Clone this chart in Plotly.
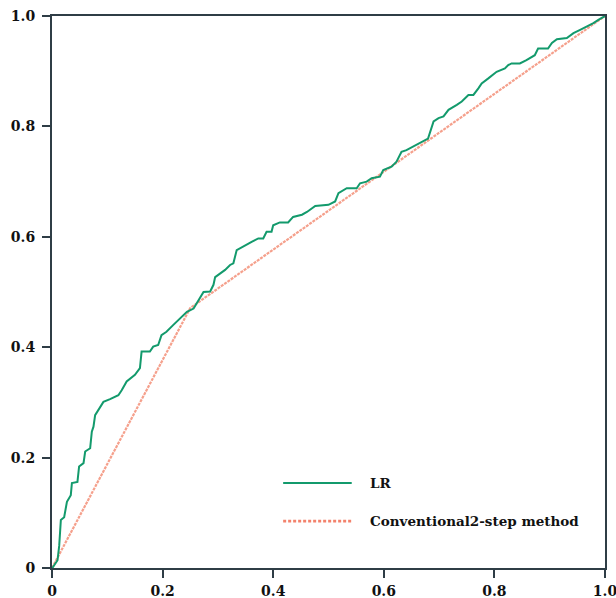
import plotly.graph_objects as go

# LR ROC curve (false positive rate, true positive rate)
lr_fpr = [0, 0.002, 0.010, 0.013, 0.016, 0.022, 0.027, 0.034, 0.036, 0.046, 0.049, 0.057,
          0.060, 0.069, 0.072, 0.075, 0.078, 0.087, 0.093, 0.105, 0.120, 0.126, 0.135, 0.150,
          0.159, 0.162, 0.177, 0.183, 0.192, 0.198, 0.207, 0.219, 0.225, 0.244, 0.256, 0.262,
          0.268, 0.274, 0.286, 0.292, 0.295, 0.313, 0.322, 0.328, 0.334, 0.349, 0.361, 0.373,
          0.382, 0.388, 0.397, 0.400, 0.412, 0.427, 0.436, 0.452, 0.461, 0.476, 0.500, 0.512,
          0.518, 0.533, 0.551, 0.557, 0.569, 0.578, 0.593, 0.599, 0.614, 0.623, 0.632, 0.641,
          0.665, 0.680, 0.690, 0.699, 0.708, 0.717, 0.732, 0.741, 0.753, 0.762, 0.771, 0.777,
          0.789, 0.804, 0.819, 0.825, 0.831, 0.846, 0.858, 0.873, 0.879, 0.897, 0.904, 0.913,
          0.931, 0.943, 0.955, 0.967, 0.979, 0.988, 1.0]
lr_tpr = [0, 0.002, 0.014, 0.040, 0.087, 0.092, 0.120, 0.132, 0.154, 0.156, 0.184, 0.190,
          0.211, 0.217, 0.247, 0.256, 0.277, 0.290, 0.301, 0.306, 0.313, 0.322, 0.338, 0.350,
          0.362, 0.392, 0.392, 0.401, 0.404, 0.422, 0.428, 0.440, 0.446, 0.464, 0.470, 0.480,
          0.489, 0.500, 0.501, 0.513, 0.527, 0.540, 0.549, 0.552, 0.576, 0.585, 0.591, 0.597,
          0.597, 0.609, 0.609, 0.621, 0.626, 0.626, 0.636, 0.640, 0.645, 0.656, 0.658, 0.664,
          0.679, 0.688, 0.688, 0.697, 0.700, 0.706, 0.709, 0.721, 0.727, 0.736, 0.754, 0.757,
          0.769, 0.778, 0.809, 0.815, 0.818, 0.830, 0.839, 0.845, 0.857, 0.857, 0.869, 0.878,
          0.887, 0.899, 0.905, 0.911, 0.914, 0.914, 0.920, 0.929, 0.941, 0.941, 0.951, 0.958,
          0.960, 0.969, 0.975, 0.981, 0.987, 0.993, 1.0]

# Conventional 2-step method ROC
conv_fpr = [0, 0.25, 1.0]
conv_tpr = [0, 0.471, 1.0]

tick_vals = [0, 0.2, 0.4, 0.6, 0.8, 1.0]
tick_text = ["0", "0.2", "0.4", "0.6", "0.8", "1.0"]

series_names = ["LR", "Conventional2-step method"]

GREEN = "#139a6c"
SALMON = "#f5a08c"
SALMON_LEG = "#f3826c"
AXIS = "#2f3d46"
FONT = "DejaVu Serif"

fig = go.Figure()
fig.add_trace(go.Scatter(x=conv_fpr, y=conv_tpr, mode="lines",
                         line=dict(color=SALMON, width=2.2, dash="3px,1px"),
                         name=series_names[1], showlegend=False))
fig.add_trace(go.Scatter(x=lr_fpr, y=lr_tpr, mode="lines",
                         line=dict(color=GREEN, width=2),
                         name=series_names[0], showlegend=False))

# legend drawn manually to match long sample lines
leg_x0, leg_x1, text_x = 0.418, 0.542, 0.572
leg_rows = [(0.154, GREEN, "solid", 2, series_names[0]),
            (0.085, SALMON_LEG, "3px,2px", 2.6, series_names[1])]
for yy, col, dash, wd, label in leg_rows:
    fig.add_shape(type="line", xref="paper", yref="paper",
                  x0=leg_x0, x1=leg_x1, y0=yy, y1=yy,
                  line=dict(color=col, width=wd, dash=dash))
    fig.add_annotation(xref="paper", yref="paper", x=text_x, y=yy,
                       text=label, showarrow=False,
                       xanchor="left", yanchor="middle",
                       font=dict(family=FONT, size=13.5, color="#111111", weight="bold"))

axis_common = dict(range=[0, 1], tickvals=tick_vals, ticktext=tick_text,
                   showline=True, linecolor=AXIS, linewidth=2, mirror=True,
                   ticks="outside", ticklen=8, tickwidth=2, tickcolor=AXIS,
                   showgrid=False, zeroline=False, automargin=False,
                   ticklabeloverflow="allow",
                   tickfont=dict(family=FONT, size=14, color="#111111", weight="bold"))

fig.update_layout(
    width=616, height=598,
    margin=dict(l=52, r=11, t=16, b=30),
    paper_bgcolor="white", plot_bgcolor="white",
    xaxis=dict(**axis_common, ticklabelstandoff=1),
    yaxis=dict(**axis_common, ticklabelstandoff=4),
    font=dict(family=FONT, size=14),
)

fig.write_html("out.html", config={"displayModeBar": False},
               post_script="document.body.style.margin='0';document.body.style.overflow='hidden';")
